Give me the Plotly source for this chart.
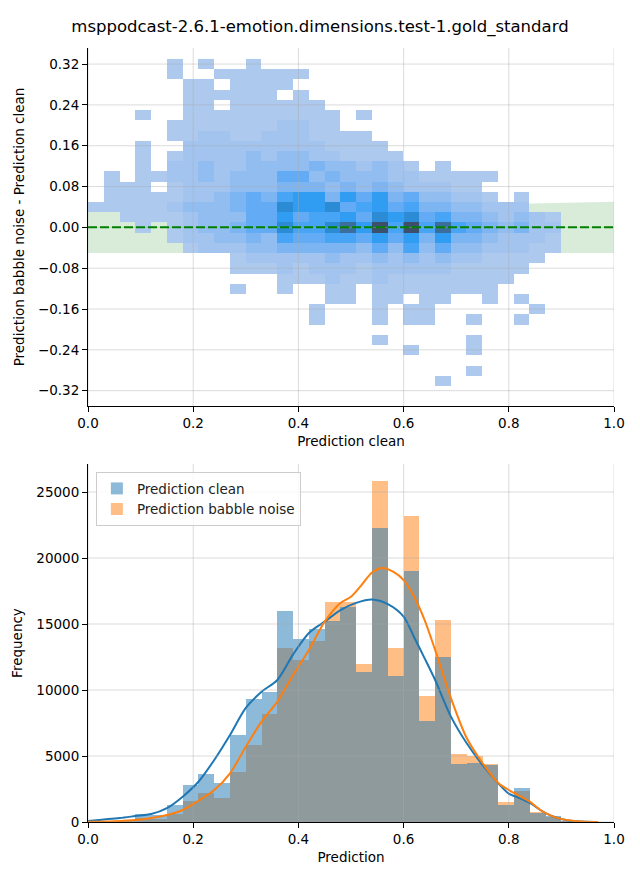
import plotly.graph_objects as go

# ---------------- data ----------------
title_text = "msppodcast-2.6.1-emotion.dimensions.test-1.gold_standard"

# 2D histogram (top panel): bin edges and cell density levels
x_edges = [0.00, 0.03, 0.06, 0.09, 0.12, 0.15, 0.18, 0.21, 0.24, 0.27, 0.30,
           0.33, 0.36, 0.39, 0.42, 0.45, 0.48, 0.51, 0.54, 0.57, 0.60,
           0.63, 0.66, 0.69, 0.72, 0.75, 0.78, 0.81, 0.84, 0.87, 0.90]
y_edges = [-0.31, -0.29, -0.27, -0.25, -0.23, -0.21, -0.19, -0.17, -0.15, -0.13,
           -0.11, -0.09, -0.07, -0.05, -0.03, -0.01, 0.01, 0.03, 0.05, 0.07,
           0.09, 0.11, 0.13, 0.15, 0.17, 0.19, 0.21, 0.23, 0.25, 0.27,
           0.29, 0.31, 0.33]
# rows from top (diff = 0.32) to bottom (diff = -0.30); '.' = empty, 1..9,A = count level
density_rows = [
    ".....1.1..1...................",   # 0.32
    ".....1..111111................",   # 0.30
    "......11.1111.................",   # 0.28
    "......111111.1................",   # 0.26
    "......11.111111...............",   # 0.24
    "...1..1111111111.1............",   # 0.22
    ".....11111112211..............",   # 0.20
    ".....1122112221111............",   # 0.18
    "...1..2222222221111...........",   # 0.16
    "...1.122223233221111..........",   # 0.14
    "...1.2232233334332321.1.......",   # 0.12
    ".1.11223233355343332211111....",   # 0.10
    ".111.12223334443434322211.....",   # 0.08
    ".1111122345467747574533221.1..",   # 0.06
    "1111123334558778567564433222..",   # 0.04
    "..1111233355756675878564432321",   # 0.02
    "...1.1233455866897A6A696543422",   # 0.00
    ".....1223343655665757474432221",   # -0.02
    "......122233444443536353322211",   # -0.04
    ".........12222232232323221111.",   # -0.06
    ".........1112122212222211111..",   # -0.08
    "............111211211111111...",   # -0.10
    ".........1..1..11.11111111....",   # -0.12
    "...............11.11.11..1.1..",   # -0.14
    "..............1...1.11......1.",   # -0.16
    "..............1...1.11..1..1..",   # -0.18
    "..............................",   # -0.20
    "..................1.....1.....",   # -0.22
    "....................1...1.....",   # -0.24
    "..............................",   # -0.26
    "........................1.....",   # -0.28
    "......................1.......",   # -0.30
]

# 1D histograms (bottom panel)
bin_left = [0.00, 0.03, 0.06, 0.09, 0.12, 0.15, 0.18, 0.21, 0.24, 0.27, 0.30,
            0.33, 0.36, 0.39, 0.42, 0.45, 0.48, 0.51, 0.54, 0.57, 0.60,
            0.63, 0.66, 0.69, 0.72, 0.75, 0.78, 0.81, 0.84, 0.87, 0.90, 0.93]
clean_counts = [20, 60, 150, 600, 530, 1290, 2800, 3640, 2950, 6590, 9320,
                9850, 15985, 13860, 14620, 15230, 16290, 11360, 22270, 11060, 19020,
                7650, 12500, 4390, 4470, 4320, 1290, 2580, 680, 450, 60, 20]
babble_counts = [0, 10, 80, 300, 230, 600, 1590, 2200, 1820, 3790, 5830,
                 8180, 13200, 12270, 13710, 16670, 16700, 11970, 25830, 13180, 23180,
                 9550, 15300, 5150, 5000, 4390, 1520, 2350, 760, 380, 50, 20]

# KDE curves
kde_clean_x = [0.00, 0.06, 0.09, 0.12, 0.15, 0.18, 0.21, 0.24, 0.27, 0.30, 0.33,
               0.36, 0.39, 0.42, 0.45, 0.48, 0.51, 0.54, 0.57, 0.60, 0.62, 0.64,
               0.66, 0.69, 0.72, 0.75, 0.78, 0.80, 0.82, 0.84, 0.86, 0.88, 0.90,
               0.92, 0.96]
kde_clean_y = [80, 300, 450, 600, 1050, 1920, 3050, 4700, 6590, 8640, 9870,
               10760, 12700, 14320, 15180, 16060, 16600, 16850, 16500, 15560, 14000, 12400,
               10760, 7980, 5960, 4320, 2930, 2150, 1820, 1440, 910, 480, 230,
               80, 0]
kde_babble_x = [0.00, 0.05, 0.09, 0.12, 0.15, 0.18, 0.20, 0.24, 0.27, 0.30, 0.33,
                0.36, 0.39, 0.42, 0.45, 0.48, 0.50, 0.52, 0.54, 0.56, 0.58, 0.60,
                0.62, 0.64, 0.66, 0.69, 0.72, 0.75, 0.78, 0.81, 0.84, 0.86, 0.88,
                0.90, 0.93, 0.97]
kde_babble_y = [10, 60, 150, 300, 530, 910, 1360, 2420, 3690, 5700, 7600,
                9120, 11140, 13030, 15180, 16590, 17070, 17950, 18900, 19240, 18960, 18330,
                17070, 15300, 13030, 9390, 6360, 4470, 2950, 2200, 1540, 910, 480,
                230, 60, 0]

# band of tolerance drawn behind the 2D histogram
band_x = [0.0, 1.0]
band_low = [-0.05, -0.05]
band_high = [0.03, 0.05]

top_y_ticks = [-0.32, -0.24, -0.16, -0.08, 0.0, 0.08, 0.16, 0.24, 0.32]
x_ticks = [0.0, 0.2, 0.4, 0.6, 0.8, 1.0]
bottom_y_ticks = [0, 5000, 10000, 15000, 20000, 25000]

# ---------------- build ----------------
level_of = {".": None}
for k, ch in enumerate("123456789A"):
    level_of[ch] = k + 1
z = [[level_of[c] for c in row] for row in reversed(density_rows)]
for row in z:
    assert len(row) == len(x_edges) - 1
assert len(z) == len(y_edges) - 1

level_colors = ["#adc9ee", "#a2c4ef", "#92bdf1", "#7db5f3", "#63acf5",
                "#48a4f5", "#309df3", "#2b8bd5", "#3b6e9d", "#3d4f6b"]
colorscale = [[i / 9, c] for i, c in enumerate(level_colors)]

FONT = "DejaVu Sans"
fig = go.Figure()

fig.add_trace(go.Heatmap(
    x=x_edges, y=y_edges, z=z, zmin=1, zmax=10, colorscale=colorscale,
    showscale=False, hoverinfo="skip", xaxis="x", yaxis="y", xgap=0, ygap=0,
))

BLUE = "#1f77b4"
ORANGE = "#ff7f0e"
fig.add_trace(go.Bar(
    x=bin_left, y=babble_counts, width=0.03, offset=0,
    marker=dict(color=ORANGE, line=dict(width=0)), opacity=0.5,
    name="Prediction babble noise", legendrank=2, xaxis="x2", yaxis="y2",
))
fig.add_trace(go.Bar(
    x=bin_left, y=clean_counts, width=0.03, offset=0,
    marker=dict(color=BLUE, line=dict(width=0)), opacity=0.5,
    name="Prediction clean", legendrank=1, xaxis="x2", yaxis="y2",
))
fig.add_trace(go.Scatter(
    x=kde_clean_x, y=kde_clean_y, mode="lines",
    line=dict(color=BLUE, width=2, shape="spline", smoothing=0.8),
    showlegend=False, xaxis="x2", yaxis="y2", hoverinfo="skip",
))
fig.add_trace(go.Scatter(
    x=kde_babble_x, y=kde_babble_y, mode="lines",
    line=dict(color=ORANGE, width=2, shape="spline", smoothing=0.8),
    showlegend=False, xaxis="x2", yaxis="y2", hoverinfo="skip",
))

shapes = []
# tolerance band (below traces)
shapes.append(dict(
    type="path", xref="x", yref="y", layer="below", line=dict(width=0),
    fillcolor="rgba(0,128,0,0.15)",
    path=(f"M {band_x[0]},{band_low[0]} L {band_x[1]},{band_low[1]} "
          f"L {band_x[1]},{band_high[1]} L {band_x[0]},{band_high[0]} Z"),
))
GRID = "rgba(170,170,170,0.42)"
for xr, yr, yt in (("x", "y", top_y_ticks), ("x2", "y2", bottom_y_ticks)):
    for xv in x_ticks:
        shapes.append(dict(type="line", xref=xr, yref=f"{yr} domain", x0=xv, x1=xv,
                           y0=0, y1=1, layer="above", line=dict(color=GRID, width=1)))
    for yv in yt:
        shapes.append(dict(type="line", xref=f"{xr} domain", yref=yr, x0=0, x1=1,
                           y0=yv, y1=yv, layer="above", line=dict(color=GRID, width=1)))
# zero line (dashed green)
shapes.append(dict(type="line", xref="x domain", yref="y", x0=0, x1=1, y0=0, y1=0,
                   layer="above", line=dict(color="green", width=2, dash="9px,3px")))

axis_common = dict(
    showline=True, linecolor="black", linewidth=1, mirror=False,
    ticks="outside", ticklen=5, tickwidth=1, tickcolor="black",
    showgrid=False, zeroline=False,
    tickfont=dict(family=FONT, size=13.5, color="black"),
)

fig.update_layout(
    width=640, height=880, autosize=False,
    margin=dict(l=88, r=26, t=48, b=58),
    paper_bgcolor="white", plot_bgcolor="white",
    font=dict(family=FONT, size=13.5, color="black"),
    title=dict(text=title_text, x=0.5, xref="container", xanchor="center",
               y=1 - 26 / 880, yref="container", yanchor="middle",
               font=dict(family=FONT, size=16.5, color="black")),
    barmode="overlay", bargap=0,
    shapes=shapes,
    showlegend=True,
    legend=dict(x=0.015, y=0.452, xanchor="left", yanchor="top",
                bgcolor="rgba(255,255,255,0.8)", bordercolor="#cccccc", borderwidth=1,
                font=dict(family=FONT, size=13.5, color="#222222"),
                traceorder="normal"),
    xaxis=dict(domain=[0, 1], range=[0, 1], anchor="y", tickvals=x_ticks,
               tickformat=".1f",
               title=dict(text="Prediction clean", standoff=6,
                          font=dict(family=FONT, size=13.5)),
               **axis_common),
    yaxis=dict(domain=[0.5375, 1.0], range=[-0.35, 0.3515], anchor="x",
               tickvals=top_y_ticks, tickformat=".2f",
               title=dict(text="Prediction babble noise - Prediction clean", standoff=10,
                          font=dict(family=FONT, size=13.5)),
               **axis_common),
    xaxis2=dict(domain=[0, 1], range=[0, 1], anchor="y2", tickvals=x_ticks,
                tickformat=".1f",
                title=dict(text="Prediction", standoff=6,
                           font=dict(family=FONT, size=13.5)),
                **axis_common),
    yaxis2=dict(domain=[0, 0.4625], range=[0, 27120], anchor="x2",
                tickvals=bottom_y_ticks, tickformat="d",
                title=dict(text="Frequency", standoff=10,
                           font=dict(family=FONT, size=13.5)),
                **axis_common),
)

fig.write_html("out.html")
